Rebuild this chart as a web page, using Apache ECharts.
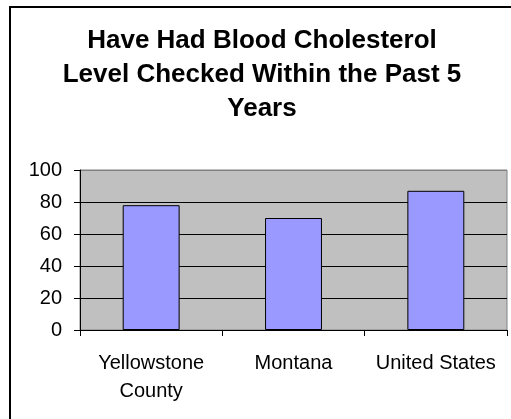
<!DOCTYPE html>
<html>
<head>
<meta charset="utf-8">
<script src="https://cdn.jsdelivr.net/npm/echarts@6/dist/echarts.min.js"></script>
<style>
html,body{margin:0;padding:0;background:#fff;}
#chart{width:511px;height:419px;}
</style>
</head>
<body>
<div id="chart"></div>
<script>
var titleText = 'Have Had Blood Cholesterol\nLevel Checked Within the Past 5\nYears';
var categories = ['Yellowstone\nCounty', 'Montana', 'United States'];
var values = [78, 70, 87];
var yTicks = [0, 20, 40, 60, 80, 100];

var chart = echarts.init(document.getElementById('chart'), null, {renderer: 'canvas'});
chart.setOption({
  animation: false,
  backgroundColor: '#ffffff',
  graphic: [{
    type: 'rect',
    shape: {x: 10, y: 7, width: 600, height: 600},
    style: {fill: 'none', stroke: '#000', lineWidth: 2},
    z: 100
  }],
  title: {
    text: titleText,
    left: 262,
    textAlign: 'center',
    top: 24,
    padding: 0,
    textStyle: {
      fontFamily: 'Liberation Sans, Arial, sans-serif',
      fontSize: 26,
      fontWeight: 'bold',
      color: '#000',
      lineHeight: 34
    }
  },
  grid: {left: 80, top: 170, width: 427, height: 160, show: true, backgroundColor: '#c0c0c0', borderColor: '#808080', borderWidth: 1},
  xAxis: {
    type: 'category',
    data: categories,
    axisLine: {lineStyle: {color: '#000', width: 1}},
    axisTick: {show: true, length: 6, lineStyle: {color: '#000'}},
    axisLabel: {
      color: '#000',
      fontFamily: 'Liberation Sans, Arial, sans-serif',
      fontSize: 20,
      lineHeight: 28,
      margin: 19,
      interval: 0
    }
  },
  yAxis: {
    type: 'value',
    min: yTicks[0],
    max: yTicks[yTicks.length - 1],
    interval: 20,
    axisLine: {show: true, lineStyle: {color: '#000', width: 1}},
    axisTick: {show: true, length: 6, lineStyle: {color: '#000'}},
    splitLine: {show: true, lineStyle: {color: ['#000', '#000', '#000', '#000', '#000', '#808080'], width: 1}},
    axisLabel: {
      color: '#000',
      fontFamily: 'Liberation Sans, Arial, sans-serif',
      fontSize: 20,
      margin: 18
    }
  },
  series: [{
    type: 'bar',
    data: values,
    barWidth: '40%',
    itemStyle: {color: '#9999ff', borderColor: '#000', borderWidth: 1}
  }]
});
</script>
</body>
</html>
